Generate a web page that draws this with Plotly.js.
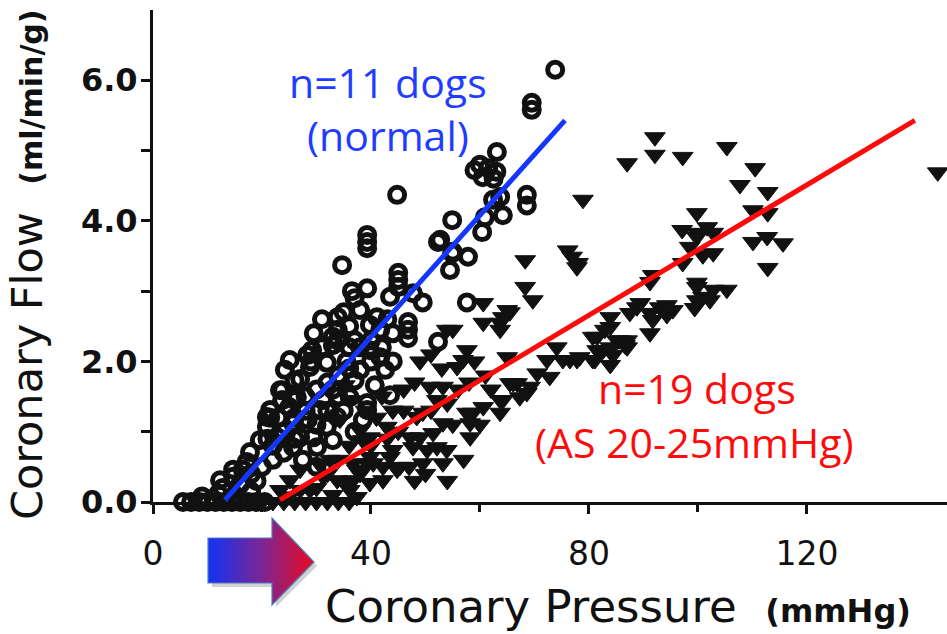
<!DOCTYPE html>
<html>
<head>
<meta charset="utf-8">
<script src="https://cdn.plot.ly/plotly-3.0.1.min.js"></script>
<style>html,body{margin:0;padding:0;background:#fff;}#chart{width:947px;height:634px;}</style>
</head>
<body>
<div id="chart"></div>
<script>
// ---- data ----
var normalPressure = [5.5,7,8.5,10,11.5,13,14.5,16,17.5,19,20.5,9,12,15,18,
  12.3,12.8,14.7,16.5,17.2,14.7,17.8,19.6,20.9,20.9,21.5,23.7,23.7,22.8,25.7,26.4,25.7,27,28.4,29.4,30.1,31.2,31.9,33,30.6,33.8,
  28.3,28.8,29.2,31.9,33,33,33.9,33.9,33.9,34.7,36.1,39.3,39.3,38.5,39.3,41.7,45,45,45,46.8,46.8,46.8,47.7,49.5,52.3,
  44.8,39.3,39.3,39.3,54.9,52.3,57.8,54.5,60.4,60.9,57.6,43.5,41.1,73.8,69.5,69.5,63.1,60,61.5,63,60.5,62.5,59,68.6,68.6,
  63.7,64.2,62.4,54.9,52.7,38,39.8,37,41.7,39.8,38,42.6,40.7,37,43.5,24.2,26,25.1,23.3,26.1,21.5,35.5,36,55,
  20,22,22,24,24,26,26,28,28,30,30,32,32,34,34,36,36,35,37,38,40,40,42,43,44,44,27,29,31,25,23,21,18,16,19,29.5,31,36.5,35,33,37,30,27.5];
var normalFlow = [0,0,0,0,0,0,0,0,0,0,0,0.08,0.12,0.1,0.15,
  0.31,0.2,0.46,0.46,0.57,0.36,0.71,0.88,1.07,1.21,1.31,1.45,1.59,0.92,1.12,1.49,0.78,0.92,1.17,0.92,0.78,1.45,1.07,0.88,1.31,1.21,
  2.09,1.92,2.16,1.98,2.35,2.23,2.63,2.45,2.3,3.37,1.49,1.41,1.31,1.17,3.04,2.06,3.26,3.16,3.06,2.56,2.45,2.33,2.97,2.84,2.28,
  4.37,3.8,3.7,3.61,4.01,3.7,3.49,3.3,3.84,4.05,2.84,2.92,2.63,6.15,5.68,5.58,4.98,4.8,4.75,4.7,4.62,4.6,4.72,4.37,4.22,
  4.34,4.08,4.3,3.54,3.73,2.73,2.52,2.3,2.45,2.16,1.88,1.88,1.66,1.73,1.52,1.88,1.73,2.02,1.59,1.45,1.2,2.0,2.5,3.56,
  0.5,0.6,0.8,0.7,1.0,0.9,1.2,1.3,1.5,1.6,1.1,1.7,1.3,1.8,1.5,1.9,2.2,2.7,2.9,2.2,2.0,2.3,2.2,2.6,2.4,2.0,1.75,2.0,2.2,1.35,1.2,0.9,0.4,0.25,0.3,2.4,2.6,3.0,1.3,1.6,1.0,0.5,0.6];

var asPressure = [18,20,22,24,26,28,30,32,34,36,25,33,
  28.8,31.2,33.8,36.1,39.8,37.4,39.8,42.2,43.5,45.3,42.2,39.3,36.7,37.4,44,42.9,39.8,47.2,48.4,49.5,49.5,49,50.3,51.4,52.1,50.8,53.2,53.2,53.9,53.2,52.1,
  55,57.6,56.9,57.6,58.2,60.6,63.7,60.6,63.7,65.5,65,65.5,69.2,67.3,68.6,63.7,72.3,70.5,72.8,75.2,76.5,77.8,80.7,74.1,81.5,83.9,87,80.7,82.9,85.1,84.4,86.6,83.9,83.9,
  88.8,91.2,89.4,93,91.7,91.2,95.4,94.3,94.3,87.5,85.7,83.9,91.7,91.2,97.2,99.8,102.2,105.3,99.8,99.4,100.9,102.8,99.8,100.9,102.8,99.8,99.8,97.1,101.7,99.8,102.8,98.5,
  110.1,112.7,115.6,112.8,110.1,112.8,112.8,107.7,110.5,105.3,97.2,92.1,92.1,87,78.9,144,76.1,78,68.3,76.9,77.8,68.3,69.7,65,63.7,60.6,64.2,53.9,55.8,66.8,58.7,58.2,
  47.7,44.8,38.5,36.7,40.4,35.6,36.1,34.3,38,35.2,32.5,30.6,27,25.1,23.3,27,82.6,81.1,81.5,83.9,87,78.3,66.1,64.2,
  30,32,34,36,38,40,41,43,45,46,47,48,50,51,44,46,48,49,51,53,54,55,56,58,59,61,62,60,57,54,42,39];
var asFlow = [0,0,0,0,0,0,0,0,0,0,0.08,0.1,
  0.17,0.36,0.31,0.17,0.27,0.46,0.64,0.31,0.64,0.5,0.5,0.55,0.31,0.07,0.74,1.07,0.92,0.92,1.21,1.27,0.55,0.92,0.74,0.98,1.45,1.64,1.64,1.12,0.74,0.55,0.78,
  2.45,2.16,2.02,1.27,1.12,1.35,1.45,2.55,2.55,2.7,2.06,1.69,1.64,1.49,1.55,1.27,2.02,1.83,1.78,2.02,2.02,2.02,2.02,2.2,2.16,2.16,2.3,2.35,2.45,2.3,2.09,2.23,1.95,2.63,
  2.77,2.69,2.83,2.77,2.59,2.4,2.73,2.66,2.8,2.69,2.3,2.49,3.23,3.13,3.4,3.12,2.87,3.02,2.87,2.76,2.92,3.02,3.06,3.51,3.83,3.83,4.11,3.87,3.91,3.77,3.54,3.63,
  3.7,3.77,3.68,3.33,4.15,4.11,4.41,4.51,4.75,5.05,4.91,5.19,4.94,4.82,4.3,4.69,3.58,3.4,3.44,3.49,3.34,3.06,2.87,2.73,2.45,2.83,2.63,2.45,1.92,1.69,1.27,0.92,
  0.78,0.46,0.88,0.55,0.55,0.27,1.45,1.17,1.02,1.66,0.6,0.53,0.46,0.31,0.17,0.17,2.16,2.02,2.35,2.2,2.2,2.06,1.69,1.45,
  0.2,0.4,0.6,0.8,0.4,0.8,1.2,0.9,1.0,1.3,0.5,0.3,0.4,1.3,1.3,1.6,1.7,2.0,2.1,1.9,1.4,1.1,1.6,1.7,2.0,1.8,1.6,1.1,0.6,0.3,1.5,1.3];

var normalFitX = [13.2, 75.6];
var normalFitY = [0.03, 5.43];
var asFitX = [23.3, 139.8];
var asFitY = [0.03, 5.43];

var xTickVals = [0, 40, 80, 120];
var xTickText = ['0', '40', '80', '120'];
var xMinorVals = [20, 60, 100];
var yTickVals = [0, 2, 4, 6];
var yTickText = ['0.0', '2.0', '4.0', '6.0'];
var yMinorVals = [1, 3, 5];

// ---- arrow graphic (decoration) ----
var arrowSvg = '<svg xmlns="http://www.w3.org/2000/svg" width="112" height="92" viewBox="0 0 112 92">' +
  '<defs><linearGradient id="g" x1="0" y1="0" x2="1" y2="0">' +
  '<stop offset="0" stop-color="#1233f5"/><stop offset="0.5" stop-color="#7a2696"/><stop offset="1" stop-color="#ea0a1e"/>' +
  '</linearGradient></defs>' +
  '<path d="M6,26 H70 V6 L111,50 L70,91 V71 H6 Z" fill="#000" opacity="0.18"/>' +
  '<path d="M2,22 H66 V2 L108,46 L66,89 V67 H2 Z" fill="url(#g)" stroke="#4f7cc0" stroke-width="1.2"/>' +
  '</svg>';
var arrowSrc = 'data:image/svg+xml;charset=utf-8,' + encodeURIComponent(arrowSvg);

var traces = [
  {x: normalPressure, y: normalFlow, type: 'scatter', mode: 'markers', cliponaxis: false,
   marker: {symbol: 'circle', size: 15, color: 'rgba(0,0,0,0)', line: {width: 5, color: '#111'}}, hoverinfo: 'x+y'},
  {x: asPressure, y: asFlow, type: 'scatter', mode: 'markers', cliponaxis: false,
   marker: {symbol: 'triangle-down', size: 18, color: '#111', line: {width: 1, color: '#111'}}, hoverinfo: 'x+y'},
  {x: normalFitX, y: normalFitY, type: 'scatter', mode: 'lines', cliponaxis: false,
   line: {color: '#1437ff', width: 5}},
  {x: asFitX, y: asFitY, type: 'scatter', mode: 'lines', cliponaxis: false,
   line: {color: '#ff0a0a', width: 5}}
];

var layout = {
  width: 947, height: 634,
  margin: {l: 153, r: 0, t: 10, b: 132, pad: 0},
  paper_bgcolor: '#fff', plot_bgcolor: '#fff',
  showlegend: false,
  xaxis: {
    range: [0, 145.7], showgrid: false, zeroline: false,
    showline: true, linecolor: '#111', linewidth: 3,
    tickmode: 'array', tickvals: xTickVals, ticktext: xTickText,
    ticks: 'outside', ticklen: 9, tickwidth: 3, tickcolor: '#111',
    minor: {tickmode: 'array', tickvals: xMinorVals, ticks: 'outside', ticklen: 7, tickwidth: 3, tickcolor: '#111'},
    tickfont: {family: 'DejaVu Sans', size: 33, color: '#111'}, ticklabelstandoff: 11
  },
  yaxis: {
    range: [0, 7.0], showgrid: false, zeroline: false,
    showline: true, linecolor: '#111', linewidth: 3,
    tickmode: 'array', tickvals: yTickVals, ticktext: yTickText,
    ticks: 'outside', ticklen: 9, tickwidth: 3, tickcolor: '#111',
    minor: {tickmode: 'array', tickvals: yMinorVals, ticks: 'outside', ticklen: 9, tickwidth: 3, tickcolor: '#111'},
    tickfont: {family: 'DejaVu Sans', size: 32, color: '#111', weight: 'bold'}, ticklabelstandoff: -3
  },
  images: [{
    source: arrowSrc, xref: 'paper', yref: 'paper',
    x: (206 - 153) / 794, y: (502 - 516) / 492,
    sizex: 112 / 794, sizey: 92 / 492, sizing: 'stretch',
    xanchor: 'left', yanchor: 'top', layer: 'above'
  }],
  annotations: [
    {text: 'Coronary Flow  <span style="font-size:30px;font-weight:bold">(ml/min/g)</span>',
     xref: 'paper', yref: 'paper', x: (27 - 153) / 794, y: (502 - 265) / 492,
     textangle: -90, showarrow: false, xanchor: 'center', yanchor: 'middle',
     font: {family: 'DejaVu Sans', size: 43, color: '#111'}},
    {text: 'Coronary Pressure  <span style="font-size:32px;font-weight:bold">(mmHg)</span>',
     xref: 'paper', yref: 'paper', x: (618 - 153) / 794, y: (502 - 606) / 492,
     showarrow: false, xanchor: 'center', yanchor: 'middle',
     font: {family: 'DejaVu Sans', size: 45, color: '#111'}},
    {text: 'n=11 dogs', x: 43.1, y: 5.97, xref: 'x', yref: 'y', showarrow: false,
     xanchor: 'center', yanchor: 'middle', font: {family: 'Open Sans', size: 41, color: '#1f3dff'}},
    {text: '(normal)', x: 43.1, y: 5.22, xref: 'x', yref: 'y', showarrow: false,
     xanchor: 'center', yanchor: 'middle', font: {family: 'Open Sans', size: 41, color: '#1f3dff'}},
    {text: 'n=19 dogs', x: 99.8, y: 1.62, xref: 'x', yref: 'y', showarrow: false,
     xanchor: 'center', yanchor: 'middle', font: {family: 'Open Sans', size: 41, color: '#ff0a0a'}},
    {text: '(AS 20-25mmHg)', x: 99.4, y: 0.85, xref: 'x', yref: 'y', showarrow: false,
     xanchor: 'center', yanchor: 'middle', font: {family: 'Open Sans', size: 41, color: '#ff0a0a'}}
  ]
};

Plotly.newPlot('chart', traces, layout, {displayModeBar: false, staticPlot: true});
</script>
</body>
</html>
